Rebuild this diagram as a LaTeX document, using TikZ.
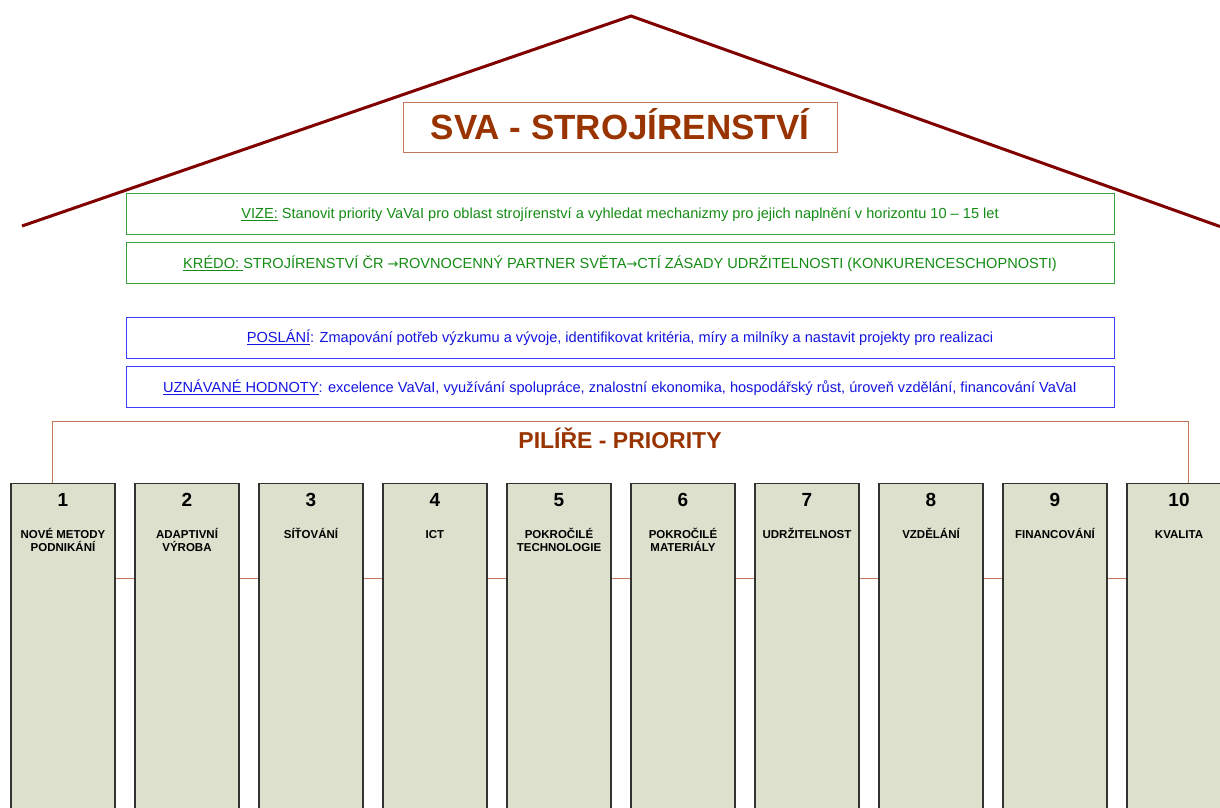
\documentclass[tikz,border=0pt]{standalone}
\usepackage{fontspec}
\setmainfont{Liberation Sans}
\newfontfamily\arrfont{DejaVu Sans}
\newcommand{\rarr}{{\arrfont\fontsize{13}{16}\selectfont →}}
\usetikzlibrary{calc}
\definecolor{roofc}{RGB}{128,0,0}
\definecolor{titlec}{RGB}{153,51,0}
\definecolor{copper}{RGB}{196,120,90}
\definecolor{grn}{RGB}{20,140,20}
\definecolor{grnb}{RGB}{60,160,60}
\definecolor{blu}{RGB}{20,20,225}
\definecolor{blub}{RGB}{60,60,255}
\definecolor{pill}{RGB}{221,224,204}
\begin{document}
\begin{tikzpicture}[x=1pt,y=-1pt,
  roofline/.style={draw=roofc, line width=3pt},
  titlebox/.style={draw=copper, line width=1pt, minimum width=434, minimum height=50,
    inner sep=0pt, text height=25pt, text depth=0pt, text=titlec,
    font=\fontsize{35}{40}\selectfont\bfseries},
  gbox/.style={draw=grnb, line width=1pt, minimum width=988, minimum height=41,
    inner sep=0pt, text height=10.5pt, text depth=0pt, text=grn,
    font=\fontsize{14.6}{17}\selectfont},
  bbox/.style={gbox, draw=blub, text=blu},
  pillar/.style={draw=black!80, fill=pill, line width=1.2pt, minimum width=104,
    minimum height=340, anchor=north, inner sep=0pt},
  numtxt/.style={anchor=base, inner sep=0pt, font=\fontsize{19}{22}\selectfont\bfseries},
  labtxt/.style={anchor=base, inner sep=0pt, font=\fontsize{11.5}{14}\selectfont\bfseries},
  link/.style={draw=copper, line width=1pt},
  headtxt/.style={anchor=base, inner sep=0pt, text=titlec, font=\fontsize{23}{26}\selectfont\bfseries}
]
\useasboundingbox (0,0) rectangle (1220,807);
\clip (0,0) rectangle (1220,807);
% roof
\coordinate (rl) at (22,226);
\coordinate (rt) at (631,16);
\coordinate (rr) at (1220,226.5);
\draw[roofline] (rl) -- (rt) -- (rr);
% title
\node[titlebox] (title) at (620,127) {SVA - STROJÍRENSTVÍ};
% statement boxes
\node[gbox] (vize) at (620,213.5) {\underline{VIZE:} Stanovit priority VaVaI pro oblast strojírenství a vyhledat mechanizmy pro jejich naplnění v horizontu 10 – 15 let};
\node[gbox] (kredo) at (620,263) {\underline{KRÉDO: }STROJÍRENSTVÍ ČR \rarr ROVNOCENNÝ PARTNER SVĚTA\rarr CTÍ ZÁSADY UDRŽITELNOSTI (KONKURENCESCHOPNOSTI)};
\node[bbox] (poslani) at (620,337.5) {\underline{POSLÁNÍ}: Zmapování potřeb výzkumu a vývoje, identifikovat kritéria, míry a milníky a nastavit projekty pro realizaci};
\node[bbox] (hodnoty) at (620,387) {\underline{UZNÁVANÉ HODNOTY}: excelence VaVaI, využívání spolupráce, znalostní ekonomika, hospodářský růst, úroveň vzdělání, financování VaVaI};
% pillars
\foreach \i in {1,...,10}{
  \node[pillar] (p\i) at ({63+124*(\i-1)},483) {};
  \node[numtxt] (n\i) at ($(p\i.north)+(0,23)$) {\i};
}
\foreach \i/\t in {1/NOVÉ METODY,2/ADAPTIVNÍ,3/SÍŤOVÁNÍ,4/ICT,5/POKROČILÉ,6/POKROČILÉ,7/UDRŽITELNOST,8/VZDĚLÁNÍ,9/FINANCOVÁNÍ,10/KVALITA}{
  \node[labtxt] (la\i) at ($(p\i.north)+(0,55)$) {\t};
}
\foreach \i/\t in {1/PODNIKÁNÍ,2/VÝROBA,5/TECHNOLOGIE,6/MATERIÁLY}{
  \node[labtxt] (lb\i) at ($(p\i.north)+(0,68.5)$) {\t};
}
% links between pillars
\foreach \i [evaluate=\i as \j using int(\i+1)] in {1,...,9}{
  \draw[link] ($(p\i.north east)+(0,95)$) -- ($(p\j.north west)+(0,95)$);
}
% bracket
\coordinate (bl) at (52,421);
\coordinate (br) at (1188,421);
\draw[link] ($(p1.north)+(-11,0)$) -- (bl) -- (br) -- ($(p10.north)+(9,0)$);
\node[headtxt] (head) at (620,448) {PILÍŘE - PRIORITY};
\end{tikzpicture}
\end{document}
